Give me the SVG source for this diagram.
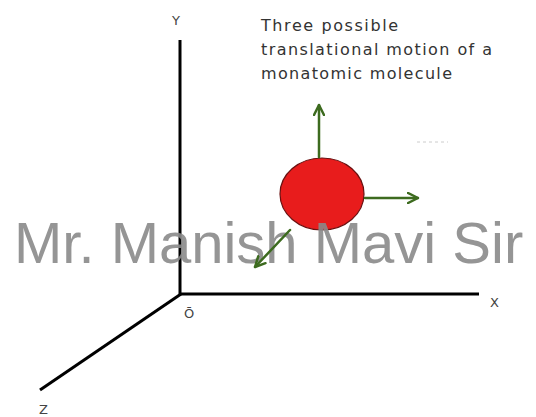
<svg xmlns="http://www.w3.org/2000/svg" width="536" height="417" viewBox="0 0 536 417">
<defs>
<style>
.axis{stroke:#000;stroke-width:3;fill:none;stroke-linecap:butt}
.lbl{font-family:"DejaVu Sans","Liberation Sans",sans-serif;font-size:13px;fill:#444}
.cap{font-family:"DejaVu Sans","Liberation Sans",sans-serif;font-size:16px;fill:#333}
.arr{stroke:#3d6b1f;stroke-width:2.5;fill:none;stroke-linecap:round}
.wm{font-family:"Liberation Sans",Arial,sans-serif;font-size:58px;fill:#8a8a8a;fill-opacity:0.9}
</style>
<marker id="head" viewBox="0 0 10 10" refX="9" refY="5" markerWidth="5" markerHeight="5" orient="auto" markerUnits="strokeWidth">
<path d="M1,1 L9,5 L1,9" fill="none" stroke="#3d6b1f" stroke-width="2" stroke-linecap="round" stroke-linejoin="round"/>
</marker>
</defs>
<rect width="536" height="417" fill="#fff"/>
<g id="axes">
<line class="axis" x1="180" y1="40" x2="180" y2="295"/>
<line class="axis" x1="179" y1="294" x2="479" y2="294"/>
<line class="axis" x1="181" y1="294" x2="40" y2="390"/>
</g>
<g id="labels">
<text class="lbl" x="172" y="25">Y</text>
<text class="lbl" x="490" y="307">X</text>
<text class="lbl" x="39" y="414">Z</text>
<text class="lbl" x="184" y="318">Ō</text>
</g>
<g id="caption">
<text class="cap" x="261" y="31" textLength="137">Three possible</text>
<text class="cap" x="261" y="55" textLength="231">translational motion of a</text>
<text class="cap" x="261" y="79" textLength="191">monatomic molecule</text>
</g>
<line x1="417" y1="142" x2="448" y2="142" stroke="#ccc" stroke-width="1" stroke-dasharray="3,3"/>
<g id="molecule">
<ellipse cx="322" cy="194" rx="42" ry="36" fill="#e81c1c" stroke="#6a1010" stroke-width="1.2"/>
</g>
<text class="wm" x="14" y="263">Mr. Manish Mavi Sir</text>
<g id="connectors">
<line class="arr" x1="319" y1="157" x2="319" y2="105" marker-end="url(#head)"/>
<line class="arr" x1="365" y1="198" x2="418" y2="198" marker-end="url(#head)"/>
<line class="arr" x1="290" y1="230" x2="255" y2="267" marker-end="url(#head)"/>
</g>
</svg>
